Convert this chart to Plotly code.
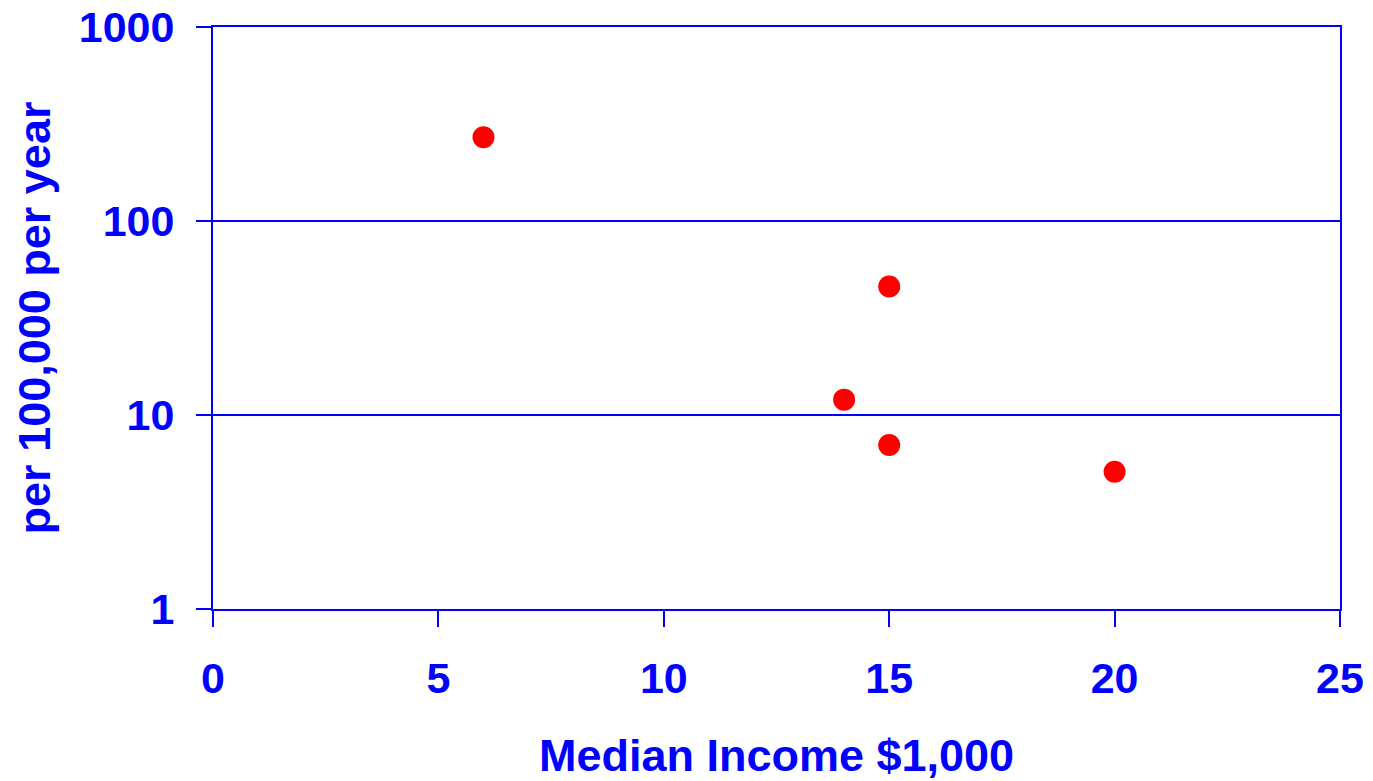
import plotly.graph_objects as go

income = [6, 15, 14, 15, 20]
rate = [270, 46, 12, 7, 5.1]
x_ticks = [0, 5, 10, 15, 20, 25]
y_ticks = [1, 10, 100, 1000]
y_labels = ["1", "10", "100", "1000"]

BLUE = "#0000FF"
font = dict(family="Liberation Sans, Arial, sans-serif", size=43, color=BLUE, weight="bold")
title_font = dict(font, size=45)

fig = go.Figure()
fig.add_trace(go.Scatter(
    x=income, y=rate, mode="markers",
    marker=dict(color="#FF0000", size=22, line=dict(width=0)),
    showlegend=False,
))

fig.update_layout(
    width=1373, height=781,
    margin=dict(l=213, r=33, t=27, b=172, autoexpand=False),
    paper_bgcolor="white", plot_bgcolor="white",
    font=font,
)
fig.update_xaxes(
    range=[0, 25], tickvals=x_ticks, showgrid=False, zeroline=False,
    showline=True, linecolor=BLUE, linewidth=2, mirror=True,
    ticks="outside", ticklen=16, tickwidth=2, tickcolor=BLUE,
    tickfont=font, ticklabelstandoff=14, automargin=True,
    title=dict(text="Median Income $1,000", font=title_font, standoff=40),
)
fig.update_yaxes(
    type="log", range=[0, 3], tickvals=y_ticks, ticktext=y_labels,
    showgrid=True, gridcolor=BLUE, gridwidth=2, zeroline=False,
    showline=True, linecolor=BLUE, linewidth=2, mirror=True,
    ticks="outside", ticklen=15, tickwidth=2, tickcolor=BLUE,
    tickfont=font, ticklabelstandoff=13, automargin=True,
    title=dict(text="per 100,000 per year", font=title_font, standoff=14),
)
fig.write_html(
    "out.html",
    config={"displayModeBar": False},
    post_script="document.body.style.margin='0';document.body.style.overflow='hidden';",
)
